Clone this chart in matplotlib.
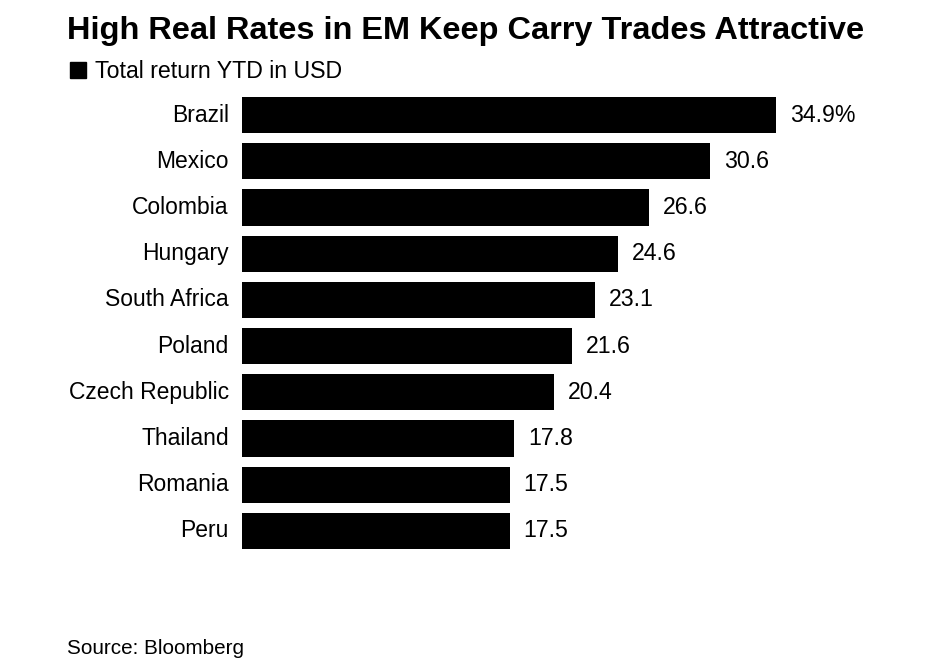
import matplotlib.pyplot as plt
from matplotlib.patches import Rectangle

plt.rcParams['font.family'] = ['Liberation Sans', 'DejaVu Sans']

countries = ['Brazil', 'Mexico', 'Colombia', 'Hungary', 'South Africa',
             'Poland', 'Czech Republic', 'Thailand', 'Romania', 'Peru']
returns = [34.9, 30.6, 26.6, 24.6, 23.1, 21.6, 20.4, 17.8, 17.5, 17.5]
value_labels = ['34.9%', '30.6', '26.6', '24.6', '23.1', '21.6', '20.4',
                '17.8', '17.5', '17.5']

W, H = 940, 662
fig = plt.figure(figsize=(W / 100, H / 100), dpi=100)
ax = fig.add_axes([242 / W, 1 - 554 / H, 1 - 242 / W, (554 - 92) / H])

y = list(range(len(countries)))
ax.barh(y, returns, height=0.78, color='black')
ax.set_ylim(len(countries) - 0.5, -0.5)
ax.set_xlim(0, (W - 242) / 15.3)

for yi, v, lab in zip(y, returns, value_labels):
    ax.text(v + 0.9, yi, lab, va='center', ha='left', fontsize=16.7)

ax.set_yticks(y)
ax.set_yticklabels(countries, fontsize=16.5, va='center')
ax.tick_params(axis='y', length=0, pad=9.5)
ax.set_xticks([])
for s in ax.spines.values():
    s.set_visible(False)

fig.text(67 / W, 1 - 31 / H, 'High Real Rates in EM Keep Carry Trades Attractive',
         fontsize=23.4, fontweight='bold', va='center', ha='left')
fig.patches.append(Rectangle((70 / W, 1 - 78 / H), 16 / W, 16 / H,
                             transform=fig.transFigure, color='black'))
fig.text(95 / W, 1 - 71 / H, 'Total return YTD in USD', fontsize=16.7,
         va='center', ha='left')
fig.text(67 / W, 1 - 649 / H, 'Source: Bloomberg', fontsize=14.9,
         va='center', ha='left')

fig.savefig('out.png', dpi=100)
